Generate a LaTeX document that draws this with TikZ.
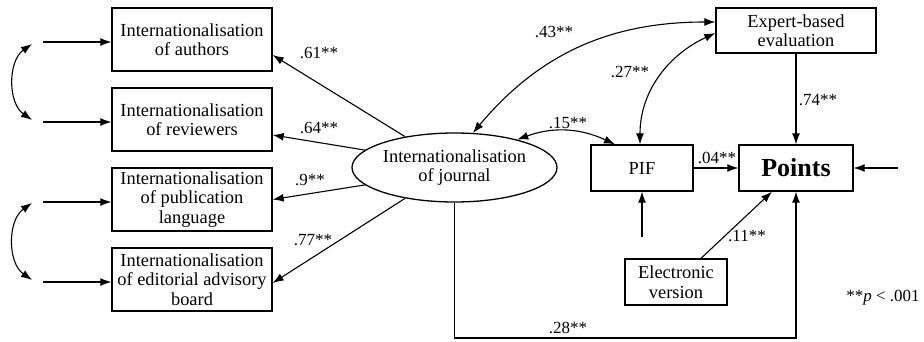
\documentclass[tikz,border=0pt]{standalone}
\usepackage{fontspec}
\setmainfont{Liberation Serif}
\usetikzlibrary{arrows.meta,shapes.geometric}
\begin{document}
\begin{tikzpicture}[x=1pt,y=1pt,
  box/.style={draw,line width=1.3pt,align=center,font=\fontsize{18.4}{19.5}\selectfont,inner sep=0pt},
  arr/.style={-{Latex[length=11pt,width=8pt]},line width=1.1pt},
  darr/.style={{Latex[length=11pt,width=8pt]}-{Latex[length=11pt,width=8pt]},line width=1.1pt},
  lab/.style={font=\fontsize{17}{18}\selectfont}]
\useasboundingbox (0,0) rectangle (924,341);
% left boxes
\node[box,minimum width=160,minimum height=63] (a1) at (192,301.5) {Internationalisation\\of authors};
\node[box,minimum width=160,minimum height=63] (a2) at (192,221.5) {Internationalisation\\of reviewers};
\node[box,minimum width=160,minimum height=63] (a3) at (192,141.5) {Internationalisation\\of publication\\language};
\node[box,minimum width=160,minimum height=63] (a4) at (192,61.5) {Internationalisation\\of editorial advisory\\board};
% ellipse
\node[box,ellipse,minimum width=205,minimum height=69] (J) at (454.5,173.5) {Internationalisation\\of journal};
% right boxes
\node[box,minimum width=160,minimum height=45] (E) at (796,310.5) {Expert-based\\evaluation};
\node[box,minimum width=102,minimum height=46] (P) at (642,173) {PIF};
\node[box,minimum width=114,minimum height=46,font=\fontsize{26}{27}\selectfont\bfseries] (Pt) at (796,173) {Points};
\node[box,minimum width=102,minimum height=46] (El) at (676,59) {Electronic\\version};
% free ends
\coordinate (i1) at (43,299);
\coordinate (i2) at (43,219);
\coordinate (i3) at (43,139);
\coordinate (i4) at (43,59);
\coordinate (c1) at (32,297);
\coordinate (c2) at (32,221);
\coordinate (c3) at (32,138);
\coordinate (c4) at (32,61);
\coordinate (r1) at (898,173);
\coordinate (p1) at (642,104);
\coordinate (b1) at (454.5,3);
% input arrows
\draw[arr] (i1) -- (i1 -| a1.west);
\draw[arr] (i2) -- (i2 -| a2.west);
\draw[arr] (i3) -- (i3 -| a3.west);
\draw[arr] (i4) -- (i4 -| a4.west);
\draw[darr] (c1) to[out=215,in=145] (c2);
\draw[darr] (c3) to[out=215,in=145] (c4);
% loadings
\draw[arr] (J.148) -- ([yshift=-15.5pt]a1.east);
\draw[arr] (J.169) -- ([yshift=-15.5pt]a2.east);
\draw[arr] (J.191) -- (a3.east);
\draw[arr] (J.212) -- ([yshift=-3.5pt]a4.east);
% correlations
\draw[darr] ([yshift=8.5pt]E.west) to[out=180,in=50] (J.62);
\draw[darr] ([yshift=-2.5pt]E.west) to[out=205,in=90] ([xshift=-2pt]P.north);
\draw[darr] (J.24) to[out=20,in=155] ([xshift=-27pt]P.north);
% paths
\draw[arr] (P.east) -- (Pt.west);
\draw[arr] (E.south) -- (Pt.north);
\draw[arr] (r1) -- (Pt.east);
\draw[arr] (p1) -- (P.south);
\draw[arr] ([xshift=25pt]El.north) -- ([xshift=-24pt]Pt.south);
\draw[arr] (J.south) -- (b1) -| (Pt.south);
% labels
\node[lab] (l1) at (319,288) {.61**};
\node[lab] (l2) at (319,213) {.64**};
\node[lab] (l3) at (310,161) {.9**};
\node[lab] (l4) at (313,101) {.77**};
\node[lab] (l5) at (554,309) {.43**};
\node[lab] (l6) at (630,269) {.27**};
\node[lab] (l7) at (568,218) {.15**};
\node[lab] (l8) at (717,183) {.04**};
\node[lab] (l9) at (818,241) {.74**};
\node[lab] (l10) at (747,105) {.11**};
\node[lab] (l11) at (568,13) {.28**};
\node[lab] (l12) at (883,43) {**\textit{p} < .001};
\end{tikzpicture}
\end{document}
